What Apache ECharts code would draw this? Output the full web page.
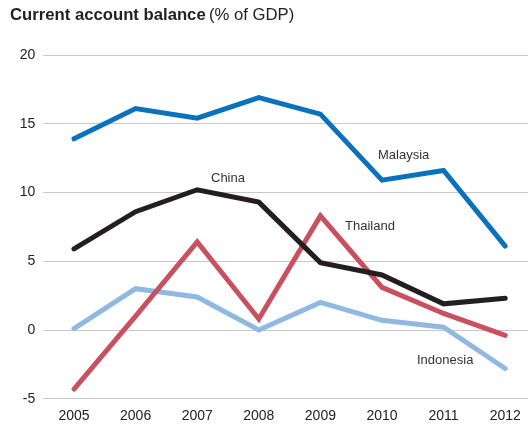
<!DOCTYPE html>
<html>
<head>
<meta charset="utf-8">
<script src="https://cdn.jsdelivr.net/npm/echarts@6/dist/echarts.min.js"></script>
<style>html,body{margin:0;padding:0;background:#fff}#c{width:528px;height:425px}</style>
</head>
<body>
<div id="c"></div>
<script>
const years = ['2005','2006','2007','2008','2009','2010','2011','2012'];
const malaysia  = [13.9, 16.1, 15.4, 16.9, 15.7, 10.9, 11.6, 6.1];
const china     = [5.9, 8.6, 10.2, 9.3, 4.9, 4.0, 1.9, 2.3];
const thailand  = [-4.3, 1.0, 6.4, 0.8, 8.3, 3.1, 1.2, -0.4];
const indonesia = [0.1, 3.0, 2.4, 0.0, 2.0, 0.7, 0.2, -2.8];
const yTicks = [-5, 0, 5, 10, 15, 20];

const font = 'Liberation Sans, Arial, sans-serif';
const chart = echarts.init(document.getElementById('c'), null, {renderer: 'canvas'});
function line(name, data, color) {
  return {name, type: 'line', data, symbol: 'none', smooth: false,
    lineStyle: {color, width: 5, cap: 'round', join: 'miter'}, itemStyle: {color}, z: 3};
}
chart.setOption({
  animation: false,
  backgroundColor: '#fff',
  grid: {left: 43.2, right: -8, top: 55, bottom: 26.3, containLabel: false, outerBoundsMode: 'none'},
  xAxis: {
    type: 'category', data: years, boundaryGap: true,
    axisLine: {show: false}, axisTick: {show: false},
    axisLabel: {color: '#222', fontSize: 14, fontFamily: font, margin: 10},
    splitLine: {show: false}
  },
  yAxis: {
    type: 'value', min: yTicks[0], max: yTicks[yTicks.length - 1], interval: 5,
    axisLine: {show: false}, axisTick: {show: false},
    axisLabel: {color: '#222', fontSize: 14, fontFamily: font, margin: 8},
    splitLine: {show: true, lineStyle: {color: '#c8c8c8', width: 1.2}}
  },
  series: [
    line('Indonesia', indonesia, '#8fb9e1'),
    line('Thailand', thailand, '#c8505f'),
    line('China', china, '#231f20'),
    line('Malaysia', malaysia, '#0a72bd')
  ],
  graphic: [
    {type: 'text', left: 10, top: 7, style: {
      text: '{b|Current account balance} {r|(% of GDP)}',
      rich: {
        b: {fontSize: 16.7, fontWeight: 'bold', fontFamily: font, fill: '#222'},
        r: {fontSize: 16.7, fontFamily: font, fill: '#222'}
      }}},
    {type: 'text', left: 378, top: 149, style: {text: 'Malaysia', fontSize: 13, fontFamily: font, fill: '#333'}},
    {type: 'text', left: 211, top: 172, style: {text: 'China', fontSize: 13, fontFamily: font, fill: '#333'}},
    {type: 'text', left: 345, top: 220, style: {text: 'Thailand', fontSize: 13, fontFamily: font, fill: '#333'}},
    {type: 'text', left: 417, top: 354, style: {text: 'Indonesia', fontSize: 13, fontFamily: font, fill: '#333'}}
  ]
});
</script>
</body>
</html>
